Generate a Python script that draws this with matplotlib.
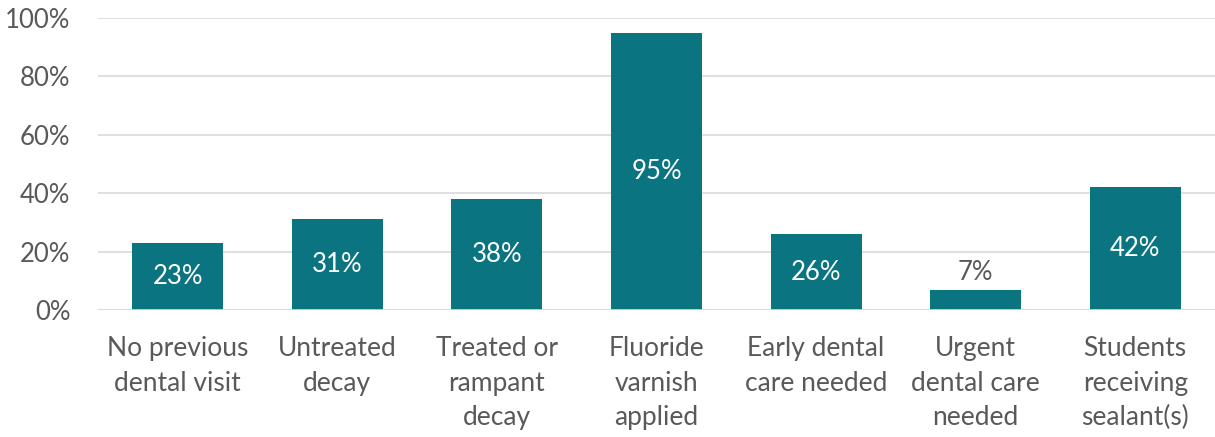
import matplotlib

matplotlib.use("Agg")
import matplotlib.pyplot as plt
from matplotlib.ticker import PercentFormatter

categories = [
    "No previous\ndental visit",
    "Untreated\ndecay",
    "Treated or\nrampant\ndecay",
    "Fluoride\nvarnish\napplied",
    "Early dental\ncare needed",
    "Urgent\ndental care\nneeded",
    "Students\nreceiving\nsealant(s)",
]
values = [23, 31, 38, 95, 26, 7, 42]

BAR = "#0A7481"
GREY = "#595959"

plt.rcParams["font.family"] = ["Lato", "DejaVu Sans"]

fig = plt.figure(figsize=(12.15, 4.37), dpi=100)
ax = fig.add_axes([0.0807, 0.2906, 0.9193, 0.6682])

x = list(range(len(values)))
bars = ax.bar(x, values, width=0.57, color=BAR, zorder=3)

for xi, v in zip(x, values):
    if v >= 15:
        ax.text(xi, v / 2, f"{v}%", ha="center", va="center", color="white", fontsize=18.5)
    else:
        ax.text(xi, v + 1.5, f"{v}%", ha="center", va="bottom", color=GREY, fontsize=18.5)

ax.set_xlim(-0.5, len(values) - 0.5)
ax.set_ylim(0, 100)
ax.set_yticks(range(0, 101, 20))
ax.yaxis.set_major_formatter(PercentFormatter(decimals=0))
ax.set_xticks(x)
ax.set_xticklabels(categories, fontsize=19, color=GREY, linespacing=1.46)
ax.tick_params(axis="y", labelsize=18.5, labelcolor=GREY, length=0, pad=20)
ax.tick_params(axis="x", length=0, pad=19)
ax.yaxis.grid(True, color="#D9D9D9", linewidth=1.2, zorder=0)
for s in ax.spines.values():
    s.set_visible(False)
ax.axhline(0, color="#D9D9D9", linewidth=1.2, zorder=4)

fig.savefig("out.png", dpi=100)
